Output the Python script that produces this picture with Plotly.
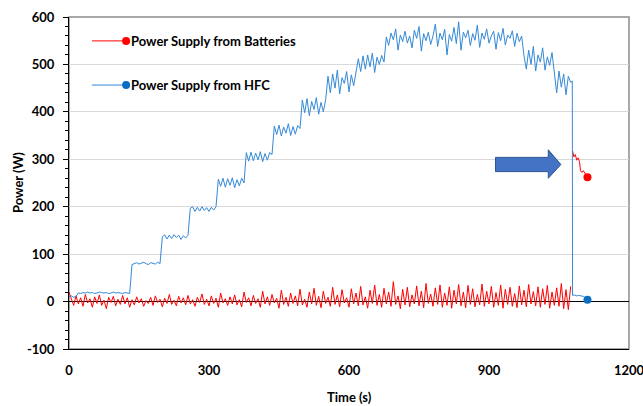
import plotly.graph_objects as go

# ---------------- data ----------------
time_s = list(range(0, 1080, 5))  # 0 .. 1075 s, 5 s sampling

hfc_w = (
    [10, 12, 9, 11]
    + [18, 17, 19, 18, 20, 18, 19, 17, 18, 20, 19, 18, 19, 17, 18, 20, 18, 19, 18, 17, 19, 18, 17]
    + [78, 80, 82, 79, 81, 83, 80, 78, 82, 81, 79, 83, 80]
    + [136, 141, 132, 140, 133, 141, 135, 140, 131, 139, 134, 140]
    + [197, 200, 190, 199, 191, 200, 192, 198, 190, 199, 193, 200]
    + [258, 243, 260, 241, 259, 245, 261, 240, 257, 244, 260, 250]
    + [314, 296, 315, 297, 313, 299, 316, 295, 312, 298, 314, 310]
    + [370, 352, 372, 349, 368, 355, 375, 350, 369, 353, 371, 365]
    + [425, 398, 428, 392, 422, 405, 430, 395, 420, 400, 426]
    + [475, 440, 480, 450, 488, 438, 472, 460, 485, 442, 478, 455, 480]
    + [512, 485, 518, 490, 520, 495, 524, 483, 515, 500, 519, 505]
    + [558, 540, 566, 552, 575, 530, 562, 548, 570, 545,
       560, 535, 572, 555, 580, 528, 565, 550, 568, 542,
       560, 585, 538, 566, 552, 574, 520, 563, 549, 578,
       544, 590, 530, 568, 556, 572, 540, 565, 551, 583,
       536, 566, 553, 575, 545, 560, 570, 532, 567, 550,
       576, 541, 562, 555, 571, 538, 566, 548, 560]
    + [518, 490, 530, 500, 538, 486, 520, 505, 535, 488, 516, 498, 525]
    + [478, 440, 486, 452, 480, 436, 475, 462]
)
hfc_tail_t = [1078.5, 1079, 1083, 1087, 1092, 1097, 1102, 1106, 1111]
hfc_tail_w = [465, 13, 14, 12, 13, 12, 11, 8, 4]

bat_w = [
    20, 5, -8, 12, -5, 8, -10, 15, -3, 6, -12, 10,
    -4, 14, -8, 3, -15, 9, -2, 11, -9, 5, -6, 13,
    -5, 8, -12, 4, -7, 10, -3, 6, -10, 2, -4, 9,
    -8, 12, -2, 5, -11, 7, -4, 15, -6, 3, -9, 11,
    -3, 8, -7, 13, -5, 4, -10, 9, -2, 16, -6, 5,
    -9, 12, -4, 7, -12, 18, -3, 6, -8, 10, -5, 14,
    -7, 4, -11, 20, -2, 8, -9, 13, -4, 6, -12, 22,
    -5, 10, -8, 15, -3, 7, -14, 24, -6, 9, -10, 18,
    -4, 12, -9, 26, -7, 5, -12, 20, -5, 28, -8, 11,
    -13, 22, -4, 9, -10, 30, -6, 14, -11, 25, -3, 8,
    -12, 27, -5, 18, -9, 32, -7, 10, -14, 24, -4, 35,
    -8, 15, -12, 28, -5, 20, -10, 42, -6, 12, -15, 26,
    -7, 30, -11, 14, -5, 33, -9, 22, -13, 38, -4, 16,
    -10, 29, -6, 35, -12, 18, -8, 31, -14, 24, -5, 36,
    -9, 20, -13, 34, -6, 27, -11, 15, -7, 37, -10, 22,
    -5, 32, -12, 19, -8, 35, -14, 26, -6, 30, -10, 17,
    -13, 33, -7, 24, -11, 36, -5, 21, -9, 31, -12, 27,
    -6, 34, -14, 20, -8, 29, -10, 38, -15, 25, -17, 32,
]
# battery output after the HFC shut-down (separate segment)
bat_tail_t = [1079, 1082, 1085, 1088, 1091, 1094, 1096, 1099, 1102, 1105, 1108, 1111]
bat_tail_w = [318, 305, 310, 298, 303, 295, 276, 272, 276, 270, 267, 262]

x_ticks = [0, 300, 600, 900, 1200]
y_ticks = [-100, 0, 100, 200, 300, 400, 500, 600]
series_names = ["Power Supply from Batteries", "Power Supply from HFC"]

# ---------------- styling ----------------
RED = "#FF0000"
BLUE_LINE = "#3489D6"
BLUE_MARK = "#0A6FC2"
FONT = "Lato"
FS = 13

bat_t = time_s + [None] + bat_tail_t
bat_all = bat_w + [None] + bat_tail_w
hfc_t = time_s + hfc_tail_t
hfc_all = hfc_w + hfc_tail_w

fig = go.Figure()
fig.add_trace(go.Scatter(x=bat_t, y=bat_all, mode="lines", line=dict(color=RED, width=1),
                         connectgaps=False, name=series_names[0], showlegend=False, hoverinfo="skip"))
fig.add_trace(go.Scatter(x=hfc_t, y=hfc_all, mode="lines", line=dict(color=BLUE_LINE, width=1),
                         name=series_names[1], showlegend=False, hoverinfo="skip"))
fig.add_trace(go.Scatter(x=[bat_tail_t[-1]], y=[bat_tail_w[-1]], mode="markers",
                         marker=dict(color=RED, size=8), showlegend=False, hoverinfo="skip"))
fig.add_trace(go.Scatter(x=[hfc_tail_t[-1]], y=[hfc_tail_w[-1]], mode="markers",
                         marker=dict(color=BLUE_MARK, size=8), showlegend=False, hoverinfo="skip"))

shapes = []
# plot-area border (gray)
shapes.append(dict(type="rect", xref="paper", yref="paper", x0=0, x1=1, y0=0, y1=1,
                   line=dict(color="#8C8C8C", width=1.5), layer="below"))
# block arrow (data coords)
shapes.append(dict(type="path", xref="x", yref="y",
                   path="M 914,274 L 1027,274 L 1027,260 L 1054,289 L 1027,320 L 1027,304 L 914,304 Z",
                   fillcolor="#4472C4", line=dict(color="#2F528F", width=1)))

# custom legend (Excel style: line then marker at end)
leg_y = [0.928, 0.795]
leg_col = [(RED, RED), (BLUE_LINE, BLUE_MARK)]
annotations = []
for yy, (lc, mc), name in zip(leg_y, leg_col, series_names):
    shapes.append(dict(type="line", xref="paper", yref="paper", x0=0.041, x1=0.102, y0=yy, y1=yy,
                       line=dict(color=lc, width=1)))
    shapes.append(dict(type="circle", xref="paper", yref="paper", xsizemode="pixel", ysizemode="pixel",
                       xanchor=0.102, yanchor=yy, x0=-4, x1=4, y0=-4, y1=4,
                       fillcolor=mc, line=dict(color=mc, width=0)))
    annotations.append(dict(xref="paper", yref="paper", x=0.107, y=yy, text=name, showarrow=False,
                            xanchor="left", yanchor="middle",
                            font=dict(family=FONT, size=FS, color="black", weight="bold")))

annotations.append(dict(xref="paper", yref="paper", x=0.5, y=-0.145, text="Time (s)", showarrow=False,
                        xanchor="center", yanchor="middle",
                        font=dict(family=FONT, size=FS, color="black", weight="bold")))
annotations.append(dict(xref="paper", yref="paper", x=-0.091, y=0.5, text="Power (W)", showarrow=False,
                        textangle=-90, xanchor="center", yanchor="middle",
                        font=dict(family=FONT, size=FS, color="black", weight="bold")))

fig.update_layout(
    width=643, height=406,
    margin=dict(l=69, r=14, t=17, b=57, autoexpand=False),
    paper_bgcolor="white", plot_bgcolor="white",
    font=dict(family=FONT, size=FS, color="black", weight="bold"),
    shapes=shapes, annotations=annotations,
    showlegend=False,
)
fig.update_xaxes(range=[0, 1200], tickvals=x_ticks, ticktext=[str(v) for v in x_ticks],
                 automargin=False, ticklabeloverflow="allow",
                 showgrid=False, zeroline=False, showline=True, linecolor="black", linewidth=1,
                 ticks="", ticklabelstandoff=9,
                 tickfont=dict(family=FONT, size=FS, color="black", weight="bold"))
fig.update_yaxes(range=[-100, 600], tickvals=y_ticks, ticktext=[str(v) for v in y_ticks],
                 automargin=False,
                 showgrid=True, gridcolor="#D9D9D9", gridwidth=1,
                 zeroline=True, zerolinecolor="black", zerolinewidth=1,
                 showline=True, linecolor="black", linewidth=1,
                 ticks="outside", ticklen=5, tickcolor="black", ticklabelstandoff=6,
                 minor=dict(dtick=20, ticks="outside", ticklen=3, tickcolor="black", showgrid=False),
                 tickfont=dict(family=FONT, size=FS, color="black", weight="bold"))

fig.write_html("out.html")
